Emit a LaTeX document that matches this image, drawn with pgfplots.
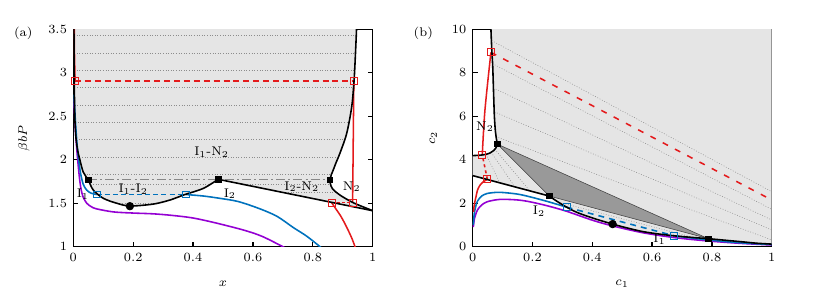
\RequirePackage{fix-cm}
\documentclass[border=0pt]{standalone}
\usepackage{pgfplots}
\pgfplotsset{compat=1.18}
\definecolor{lg}{RGB}{229,229,229}
\definecolor{dg}{RGB}{153,153,153}
\definecolor{tieg}{RGB}{140,140,140}
\definecolor{ddg}{RGB}{135,135,135}
\definecolor{cblue}{RGB}{0,114,189}
\definecolor{cpurp}{RGB}{148,0,211}
\definecolor{cred}{RGB}{228,26,28}
\newcommand{\fs}{\fontsize{7}{8.5}\selectfont}
\tikzset{lab/.style={font=\fs, inner sep=1pt}}
\pgfplotsset{
  base/.style={scale only axis, height=120.78pt, anchor=south west,
    tick align=inside, major tick length=2.8pt,
    axis line style={line width=0.75pt},
    every tick/.style={line width=0.75pt, black},
    tick label style={font=\fs}, label style={font=\fs},
    xmin=0, xmax=1,
    xtick={0,0.2,0.4,0.6,0.8,1}, xticklabels={$0$,$0.2$,$0.4$,$0.6$,$0.8$,$1$},
    every axis x label/.style={at={(rel axis cs:0.5,-0.169)}, anchor=center, font=\fs},
  },
  bk/.style={black, line width=0.88pt},
  bl/.style={cblue, line width=0.88pt},
  pu/.style={cpurp, line width=0.88pt},
  rd/.style={cred, line width=0.85pt},
  tie/.style={tieg, line width=0.3pt, dash pattern=on 0.45pt off 1pt},
  sqk/.style={only marks, mark=square*, mark size=1.5pt, black},
  dotk/.style={only marks, mark=*, mark size=2.1pt, black},
  sqr/.style={only marks, mark=square, mark size=1.9pt, cred, mark options={line width=0.5pt}},
  sqb/.style={only marks, mark=square, mark size=1.9pt, cblue, mark options={line width=0.5pt}},
}
\begin{document}
\begin{tikzpicture}
\useasboundingbox (0,0) rectangle (461.11pt,162.78pt);
% ================= panel (a) =================
\begin{axis}[base, at={(40.72pt,25.72pt)}, width=166.33pt,
  ymin=1, ymax=3.5, ytick={1,1.5,2,2.5,3,3.5}, yticklabels={$1$,$1.5$,$2$,$2.5$,$3$,$3.5$},
  xlabel={$x$}, ylabel={$\beta bP$},
  ylabel style={at={(rel axis cs:-0.165,0.5)}, anchor=center, font=\fs}]
% shaded region
\addplot[fill=lg, draw=none] coordinates {
 (0.002,3.6) (0.003,3.0) (0.005,2.5) (0.009,2.25) (0.015,2.1) (0.022,2.0) (0.033,1.86) (0.05,1.767)
 (0.067,1.65) (0.1,1.557) (0.145,1.5) (0.189,1.468) (0.267,1.49) (0.323,1.537) (0.373,1.60) (0.434,1.67) (0.484,1.775)
 (1,1.414) (0.935,1.506) (0.89,1.595) (0.866,1.665) (0.859,1.72) (0.857,1.767) (0.862,1.83) (0.868,1.88) (0.878,1.97)
 (0.890,2.07) (0.913,2.30) (0.930,2.61) (0.938,2.92) (0.943,3.26) (0.946,3.5) (0.947,3.6)};
% tie lines
\addplot[tie] coordinates {(0.002,3.43) (0.945,3.43)};
\addplot[tie] coordinates {(0.003,3.23) (0.943,3.23)};
\addplot[tie] coordinates {(0.003,3.03) (0.940,3.03)};
\addplot[tie] coordinates {(0.004,2.83) (0.936,2.83)};
\addplot[tie] coordinates {(0.0045,2.63) (0.931,2.63)};
\addplot[tie] coordinates {(0.006,2.43) (0.920,2.43)};
\addplot[tie] coordinates {(0.009,2.23) (0.906,2.23)};
\addplot[tie] coordinates {(0.02,2.03) (0.884,2.03)};
\addplot[tie] coordinates {(0.036,1.83) (0.862,1.83)};
\addplot[tie] coordinates {(0.057,1.72) (0.458,1.72)};
\addplot[tie] coordinates {(0.563,1.72) (0.859,1.72)};
\addplot[tie] coordinates {(0.691,1.63) (0.875,1.63)};
\addplot[tie] coordinates {(0.145,1.50) (0.279,1.50)};
% three-phase line
\addplot[ddg, line width=0.9pt, dash pattern=on 5pt off 1.7pt on 1.1pt off 1.7pt] coordinates {(0.05,1.771) (0.857,1.771)};
% purple
\addplot[pu, smooth, tension=0.5] coordinates {
 (0.002,2.7) (0.006,2.4) (0.011,2.15) (0.016,1.95) (0.021,1.78) (0.026,1.66) (0.033,1.57) (0.045,1.5)
 (0.06,1.46) (0.078,1.435) (0.134,1.40) (0.2,1.387) (0.267,1.378) (0.33,1.36) (0.4,1.33) (0.48,1.27)
 (0.57,1.19) (0.63,1.12) (0.70,1.0) (0.72,0.96)};
% blue
\addplot[bl, smooth, tension=0.5] coordinates {
 (0.002,2.75) (0.007,2.45) (0.012,2.2) (0.018,2.0) (0.024,1.85) (0.033,1.72) (0.045,1.65) (0.06,1.615) (0.078,1.60)};
\addplot[bl, dash pattern=on 2.8pt off 1.7pt] coordinates {(0.078,1.60) (0.376,1.60)};
\addplot[bl, smooth, tension=0.5] coordinates {
 (0.376,1.60) (0.434,1.583) (0.49,1.556) (0.55,1.52) (0.62,1.44) (0.68,1.35) (0.735,1.22) (0.78,1.12) (0.824,1.0) (0.84,0.95)};
% red
\addplot[rd] coordinates {(0.006,2.905) (0.004,3.2) (0.003,3.6)};
\addplot[rd, dash pattern=on 3.3pt off 2.2pt] coordinates {(0.006,2.905) (0.937,2.905)};
\addplot[rd] coordinates {(0.933,1.506) (0.937,2.905)};
\addplot[rd, dash pattern=on 1.7pt off 1.1pt] coordinates {(0.863,1.506) (0.933,1.506)};
\addplot[rd, smooth, tension=0.5] coordinates {
 (0.863,1.506) (0.878,1.43) (0.891,1.365) (0.905,1.28) (0.918,1.19) (0.93,1.1) (0.941,1.0) (0.945,0.95)};
% black binodals
\addplot[bk, smooth, tension=0.5] coordinates {
 (0.002,3.6) (0.003,3.0) (0.005,2.5) (0.009,2.25) (0.015,2.1) (0.022,2.0) (0.033,1.86) (0.05,1.767)
 (0.067,1.65) (0.1,1.557) (0.145,1.5) (0.189,1.468) (0.267,1.49) (0.323,1.537) (0.373,1.60) (0.434,1.67) (0.484,1.775)};
\addplot[bk] coordinates {(0.484,1.775) (1,1.414)};
\addplot[bk, smooth, tension=0.5] coordinates {
 (0.857,1.767) (0.859,1.72) (0.866,1.665) (0.89,1.595) (0.935,1.506) (1,1.414)};
\addplot[bk, smooth, tension=0.5] coordinates {
 (0.857,1.767) (0.862,1.83) (0.868,1.88) (0.878,1.97) (0.890,2.07) (0.913,2.30) (0.930,2.61) (0.938,2.92)
 (0.943,3.26) (0.946,3.5) (0.947,3.6)};
% marks
\addplot[sqk] coordinates {(0.05,1.767) (0.484,1.775) (0.857,1.767)};
\addplot[dotk] coordinates {(0.189,1.466)};
\addplot[sqr] coordinates {(0.006,2.905) (0.937,2.905) (0.863,1.506) (0.933,1.506)};
\addplot[sqb] coordinates {(0.078,1.60) (0.376,1.60)};
% labels
\node[lab] at (axis cs:0.462,2.09) {$\mathrm{I}_1$-$\mathrm{N}_2$};
\node[lab] at (axis cs:0.2,1.66) {$\mathrm{I}_1$-$\mathrm{I}_2$};
\node[lab] at (axis cs:0.523,1.61) {$\mathrm{I}_2$};
\node[lab] at (axis cs:0.763,1.69) {$\mathrm{I}_2$-$\mathrm{N}_2$};
\node[lab] at (axis cs:0.93,1.69) {$\mathrm{N}_2$};
\node[lab] at (axis cs:0.032,1.6) {$\mathrm{I}_1$};
\end{axis}
\node[font=\fs] at (12.94pt,144.3pt) {(a)};
% ================= panel (b) =================
\begin{axis}[base, at={(262.61pt,25.72pt)}, width=166.11pt,
  ymin=0, ymax=10, ytick={0,2,4,6,8,10}, yticklabels={$0$,$2$,$4$,$6$,$8$,$10$},
  xlabel={$c_1$}, ylabel={$c_2$},
  ylabel style={at={(rel axis cs:-0.132,0.5)}, anchor=center, font=\fs}]
\addplot[fill=lg, draw=none] coordinates {
 (0.0605,10.5) (1.05,10.5) (1.05,0.1) (1,0.12) (0.95,0.16) (0.905,0.22) (0.85,0.29) (0.788,0.37) (0.74,0.42)
 (0.682,0.49) (0.63,0.57) (0.571,0.69) (0.52,0.85) (0.468,1.04) (0.403,1.31) (0.35,1.57) (0.314,1.82) (0.285,2.06) (0.256,2.33)
 (0,3.27) (-0.01,3.3) (-0.01,4.19) (0,4.19) (0.025,4.21) (0.045,4.25) (0.058,4.31) (0.07,4.42) (0.078,4.55) (0.082,4.72)
 (0.08,4.9) (0.076,5.3) (0.0726,5.98) (0.070,7) (0.067,8.28) (0.064,9) (0.061,10)};
% tie lines
\addplot[tie] coordinates {(0.0635,9.48) (1,2.53)};
\addplot[tie] coordinates {(0.066,8.42) (1,1.72)};
\addplot[tie] coordinates {(0.069,7.3) (1,1.23)};
\addplot[tie] coordinates {(0.073,6.2) (1,0.77)};
\addplot[tie] coordinates {(0.078,5.06) (1,0.31)};
\addplot[tie] coordinates {(0.045,4.25) (0.09,2.95)};
\addplot[tie] coordinates {(0.062,4.34) (0.14,2.77)};
\addplot[tie] coordinates {(0.074,4.48) (0.19,2.59)};
\addplot[tie] coordinates {(0.285,2.06) (0.74,0.42)};
% three-phase triangle
\addplot[fill=dg, draw=black!75, line width=0.3pt] coordinates {(0.082,4.72) (0.256,2.33) (0.788,0.37) (0.082,4.72)};
% purple
\addplot[pu, smooth, tension=0.5] coordinates {
 (0.002,0.9) (0.006,1.3) (0.016,1.69) (0.03,1.92) (0.049,2.07) (0.08,2.16) (0.104,2.18) (0.15,2.15) (0.19,2.07)
 (0.25,1.88) (0.314,1.63) (0.4,1.22) (0.467,0.96) (0.57,0.64) (0.68,0.41) (0.79,0.26) (0.9,0.15) (1,0.08)};
% blue
\addplot[bl, smooth, tension=0.5] coordinates {
 (0.002,1.0) (0.005,1.5) (0.01,1.85) (0.016,2.1) (0.03,2.33) (0.049,2.45) (0.08,2.5) (0.104,2.49) (0.15,2.42)
 (0.19,2.30) (0.25,2.08) (0.314,1.82)};
\addplot[bl, dash pattern=on 3.3pt off 2.8pt] coordinates {(0.314,1.82) (0.674,0.50)};
\addplot[bl, smooth, tension=0.5] coordinates {(0.674,0.50) (0.75,0.37) (0.85,0.23) (0.93,0.15) (1,0.1)};
% red
\addplot[rd, smooth, tension=0.5] coordinates {
 (0.003,1.6) (0.004,1.8) (0.007,2.05) (0.011,2.3) (0.016,2.6) (0.024,2.82) (0.035,2.98) (0.049,3.10)};
\addplot[rd, dash pattern=on 1.7pt off 1.7pt] coordinates {(0.049,3.10) (0.032,4.22)};
\addplot[rd, smooth, tension=0.5] coordinates {(0.032,4.22) (0.041,6.29) (0.061,8.94)};
\addplot[rd, dash pattern=on 3.3pt off 4.4pt] coordinates {(0.061,8.94) (1,2.15)};
% black binodals
\addplot[bk, smooth, tension=0.5] coordinates {
 (0.0605,10.5) (0.061,10) (0.064,9) (0.067,8.28) (0.070,7) (0.0726,5.98) (0.076,5.3) (0.08,4.9) (0.082,4.72)};
\addplot[bk, smooth, tension=0.6] coordinates {
 (0.082,4.72) (0.078,4.55) (0.07,4.42) (0.058,4.31) (0.045,4.25) (0.025,4.21) (0,4.19)};
\addplot[bk] coordinates {(0,3.27) (0.256,2.33)};
\addplot[bk, smooth, tension=0.5] coordinates {
 (0.256,2.33) (0.285,2.06) (0.314,1.82) (0.35,1.57) (0.403,1.31) (0.468,1.04) (0.52,0.85) (0.571,0.69) (0.63,0.57)
 (0.682,0.49) (0.74,0.42) (0.788,0.37) (0.85,0.29) (0.905,0.22) (0.95,0.16) (1,0.12)};
% marks
\addplot[sqk] coordinates {(0.082,4.72) (0.256,2.33) (0.788,0.37)};
\addplot[dotk] coordinates {(0.468,1.04)};
\addplot[sqr] coordinates {(0.061,8.94) (0.032,4.22) (0.049,3.10)};
\addplot[sqb] coordinates {(0.314,1.82) (0.674,0.50)};
% labels
\node[lab] at (axis cs:0.041,5.52) {$\mathrm{N}_2$};
\node[lab] at (axis cs:0.222,1.62) {$\mathrm{I}_2$};
\node[lab] at (axis cs:0.625,0.33) {$\mathrm{I}_1$};
\end{axis}
\node[font=\fs] at (235.17pt,144.3pt) {(b)};
\end{tikzpicture}
\end{document}
